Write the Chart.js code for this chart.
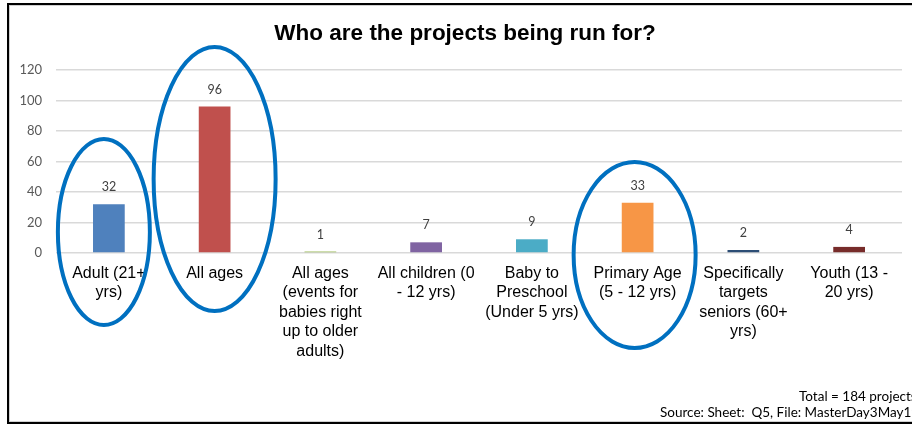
<!DOCTYPE html>
<html>
<head>
<meta charset="utf-8">
<script src="https://cdn.jsdelivr.net/npm/chart.js@4.4.1/dist/chart.umd.min.js"></script>
<style>
  html, body { margin: 0; padding: 0; background: #fff; overflow: hidden; }
  #wrap { position: relative; width: 912px; height: 425px; }
  #mycanvas { position: absolute; left: 0; top: 0; }
  #frame {
    position: absolute; left: 7px; top: 3px; width: 1000px; height: 417px;
    border: 2px solid #000; box-shadow: inset 1px 1px 0 #d0d0d0, inset -1px -1px 0 #d0d0d0;
    pointer-events: none;
  }
</style>
</head>
<body>
<div id="wrap">
  <canvas id="mycanvas" width="912" height="425"></canvas>
  <div id="frame"></div>
</div>
<script>
// Q5 answers: who each project is run for
var groups = [
    ["Adult (21+", "yrs)"],
    ["All ages"],
    ["All ages", "(events for", "babies right", "up to older", "adults)"],
    ["All children (0", "- 12 yrs)"],
    ["Baby to", "Preschool", "(Under 5 yrs)"],
    ["Primary Age", "(5 - 12 yrs)"],
    ["Specifically", "targets", "seniors (60+", "yrs)"],
    ["Youth (13 -", "20 yrs)"]
];
var projects = [32, 96, 1, 7, 9, 33, 2, 4];
var yTicks = [0, 20, 40, 60, 80, 100, 120];
var barColours = ['#4F81BD', '#C0504D', '#9BBB59', '#8064A2', '#4BACC6', '#F79646', '#2C4D75', '#772C2A'];

// groups highlighted with a hand-drawn ring: [category index, dx, dy from axis, rx, ry]
var rings = [
    [0, -5, -21, 46, 93],
    [1, 0, -74, 61, 132],
    [5, -3, 2, 61, 93]
];

var extras = {
    id: 'extras',
    afterDatasetsDraw: function (chart) {
        var ctx = chart.ctx;
        var x = chart.scales.x, y = chart.scales.y;
        ctx.save();

        // value above each bar
        ctx.font = '12.5px Lato';
        ctx.fillStyle = '#404040';
        ctx.textAlign = 'center';
        ctx.textBaseline = 'middle';
        chart.getDatasetMeta(0).data.forEach(function (bar, i) {
            ctx.fillText(projects[i], bar.x, bar.y - 17);
        });

        // title
        ctx.font = 'bold 22.5px "Liberation Sans"';
        ctx.fillStyle = '#000';
        ctx.fillText('Who are the projects being run for?', 465, 34);

        // footer notes
        ctx.font = '13.5px Lato';
        ctx.fillStyle = '#000';
        ctx.textAlign = 'left';
        ctx.fillText('Total = 184 projects', 799, 397);
        ctx.fillText('Source: Sheet:  Q5, File: MasterDay3May19', 660, 413);

        // rings
        ctx.strokeStyle = '#0070C0';
        ctx.lineWidth = 4;
        rings.forEach(function (r) {
            var cx = x.getPixelForValue(r[0]) + r[1];
            var cy = y.getPixelForValue(0) + r[2];
            ctx.beginPath();
            ctx.ellipse(cx, cy, r[3], r[4], 0, 0, Math.PI * 2);
            ctx.stroke();
        });
        ctx.restore();
    }
};

var ctx = document.getElementById('mycanvas');

var barGraph = new Chart(ctx, {
    type: 'bar',
    data: {
        labels: groups,
        datasets: [{
            label: 'Projects',
            data: projects,
            backgroundColor: barColours,
            borderWidth: 0,
            categoryPercentage: 1,
            barPercentage: 0.3
        }]
    },
    options: {
        responsive: false,
        animation: false,
        layout: { padding: { top: 70, right: 10, left: 0, bottom: 0 } },
        plugins: {
            legend: { display: false },
            tooltip: { enabled: false }
        },
        scales: {
            x: {
                grid: { display: false, drawTicks: false },
                border: { display: false },
                ticks: {
                    autoSkip: false,
                    maxRotation: 0,
                    padding: 11,
                    color: '#000',
                    font: { family: 'Liberation Sans', size: 16, lineHeight: 1.21 }
                },
                afterFit: function (scale) { scale.height = 172; }
            },
            y: {
                min: 0,
                max: 120,
                afterBuildTicks: function (scale) {
                    scale.ticks = yTicks.map(function (v) { return { value: v }; });
                },
                grid: { color: '#d9d9d9', lineWidth: 1.5, drawTicks: false },
                border: { display: false },
                ticks: {
                    padding: 14,
                    color: '#595959',
                    font: { family: 'Lato', size: 13 }
                },
                afterFit: function (scale) { scale.width = 56; }
            }
        }
    },
    plugins: [extras]
});
</script>
</body>
</html>
